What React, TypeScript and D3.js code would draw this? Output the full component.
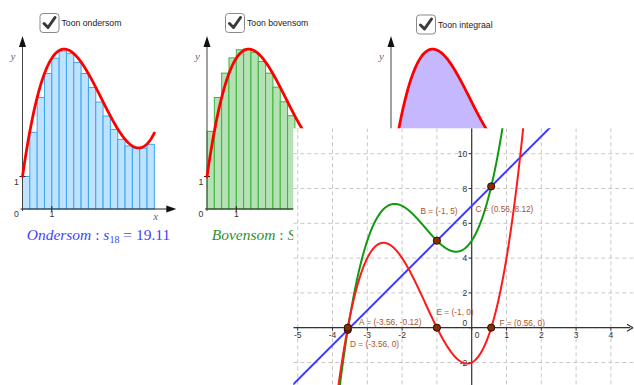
import * as d3 from 'd3';

// small panels: the cubic drawn in all three, and the 18 rectangle heights
const panelCurveCoef = [0.37, -2.99, 6.26, 1];
const sumInterval = [0, 4.5];
const lowerSums = [1, 2.36, 3.43, 4.17, 4.64, 4.86, 4.79, 4.51, 4.17, 3.74, 3.29, 2.86, 2.45, 2.14, 1.94, 1.87, 1.87, 1.99];
const upperSums = [2.39, 3.43, 4.18, 4.65, 4.9, 4.92, 4.82, 4.54, 4.18, 3.75, 3.3, 2.87, 2.46, 2.14, 1.95, 1.93, 1.99, 2.33];
const checkboxLabels = ['Toon ondersom', 'Toon bovensom', 'Toon integraal'];

// big graph
const redCoef = [1, 4, 1, -2];
const greenCoef = [1, 4, 3, 5];
const blueCoef = [2, 7];
const pointNames = ['A', 'B', 'C', 'D', 'E', 'F'];
const pointX = [-3.56, -1, 0.56, -3.56, -1, 0.56];
const pointY = [-0.12, 5, 8.12, 0, 0, 0];
const xTickLabels = [-5, -4, -3, -2, 0, 1, 2, 3, 4];
const yTickLabels = [-2, 0, 2, 4, 6, 8, 10];

const poly = (c: number[]) => (x: number) => c.reduce((acc, k) => acc * x + k, 0);

const W = 634;
const H = 385;
const SANS = '"Liberation Sans", Arial, sans-serif';
const SERIF = '"Liberation Serif", "Times New Roman", serif';

const Checkbox = ({ x, y, label }: { x: number; y: number; label: string }) => (
  <g>
    <rect x={x + 0.5} y={y + 0.5} width={19} height={19} rx={3} fill="#fff" stroke="#8a8a8a" strokeWidth={1} />
    <path d={`M${x + 4.5},${y + 10.5} L${x + 8.5},${y + 14.5} L${x + 15.5},${y + 4.5}`} fill="none" stroke="#3a3a3a" strokeWidth={3} strokeLinecap="round" strokeLinejoin="round" />
    <text x={x + 22} y={y + 13} fontFamily={SANS} fontSize={8.7} fill="#222">{label}</text>
  </g>
);

const Panel = ({ ox, kind }: { ox: number; kind: number }) => {
  const oy = 209;
  const x = d3.scaleLinear().domain([0, 1]).range([ox, ox + 29.3]);
  const y = d3.scaleLinear().domain([0, 1]).range([oy, oy - 32.5]);
  const h = poly(panelCurveCoef);
  const xs = d3.range(sumInterval[0], sumInterval[1] + 0.001, 0.02);
  const line = d3.line<number>().x(d => x(d)).y(d => y(h(d)));
  const area = d3.area<number>().x(d => x(d)).y0(y(0)).y1(d => y(h(d)));
  const heights = kind === 0 ? lowerSums : upperSums;
  const bw = (sumInterval[1] - sumInterval[0]) / heights.length;
  const axisEnd = x(5.25);
  // the third panel's lower part sits under the big graph, so its labels are left out
  const showLower = kind < 2;
  return (
    <g>
      {kind < 2 && heights.map((v, i) => (
        <rect key={i} x={x(sumInterval[0] + i * bw)} y={y(v)} width={x(bw) - x(0)} height={y(0) - y(v)}
          fill={kind === 0 ? '#bfe2ff' : '#b5e2b5'} stroke={kind === 0 ? '#3aa6f2' : '#3cb33c'} strokeWidth={1} />
      ))}
      {kind === 2 && <path d={area(xs) || ''} fill="#c6b8ff" />}
      {/* axes */}
      <line x1={ox - 2} y1={oy} x2={axisEnd - 6} y2={oy} stroke="#222" strokeWidth={1} />
      <path d={`M${axisEnd},${oy} L${axisEnd - 10},${oy - 3.5} L${axisEnd - 10},${oy + 3.5} Z`} fill="#111" />
      <line x1={ox} y1={oy + 2} x2={ox} y2={42} stroke="#444" strokeWidth={1} />
      <path d={`M${ox},36 L${ox - 3.5},47 L${ox + 3.5},47 Z`} fill="#111" />
      <line x1={x(1)} y1={oy - 3} x2={x(1)} y2={oy + 3} stroke="#222" />
      <line x1={ox - 3} y1={y(1)} x2={ox + 3} y2={y(1)} stroke="#222" />
      {showLower && (
        <g fontFamily={SANS} fontSize={8.7} fill="#333" textAnchor="middle">
          <text x={ox - 6} y={oy + 8}>0</text>
          <text x={ox - 6} y={y(1) + 8}>1</text>
          <text x={x(1)} y={oy + 8}>1</text>
        </g>
      )}
      <text x={ox - 12} y={60} fontFamily={SERIF} fontStyle="italic" fontSize={11} fill="#666">y</text>
      {kind === 0 && (
        <text x={axisEnd - 23} y={220} fontFamily={SERIF} fontStyle="italic" fontSize={11} fill="#666">x</text>
      )}
      <path d={line(xs) || ''} fill="none" stroke="#ff0000" strokeWidth={2.8} strokeLinecap="round" />
    </g>
  );
};

const SumText = ({ x, color, name, sym, value }: { x: number; color: string; name: string; sym: string; value: string }) => (
  <text x={x} y={240} fontFamily={SERIF} fontSize={15.5} fill={color}>
    <tspan fontStyle="italic">{name}</tspan>
    <tspan> : </tspan>
    <tspan fontStyle="italic">{sym}</tspan>
    <tspan fontSize={10} dy={3}>18</tspan>
    <tspan dy={-3}> = {value}</tspan>
  </text>
);

const Graph = () => {
  const left = 293.3;
  const top = 128.3;
  const x = d3.scaleLinear().domain([0, 1]).range([471.7, 471.7 + 34.8]);
  const y = d3.scaleLinear().domain([0, 1]).range([327.7, 327.7 - 17.4]);
  const xs = d3.range(-5.3, 4.8, 0.01);
  const mk = (c: number[]) => {
    const f = poly(c);
    return d3.line<number>().x(d => x(d)).y(d => Math.max(-50, Math.min(450, y(f(d)))))(xs) || '';
  };
  const gridX = d3.range(-5, 5);
  const gridY = d3.range(-2, 12, 2);
  const labelPos: Record<string, [number, number]> = {
    A: [359, 324.5],
    B: [420.5, 214],
    C: [475.5, 212],
    D: [350, 346.5],
    E: [436.5, 315],
    F: [499.5, 325.5],
  };
  return (
    <g>
      <defs>
        <clipPath id="gclip"><rect x={left} y={top} width={W - left} height={H - top} /></clipPath>
      </defs>
      <rect x={left} y={top} width={W - left} height={H - top} fill="#fff" />
      <g clipPath="url(#gclip)">
        {gridX.map(v => (
          <line key={'gx' + v} x1={x(v)} x2={x(v)} y1={top} y2={H} stroke="#c8c8c8" strokeDasharray="4,3" />
        ))}
        {gridY.map(v => (
          <line key={'gy' + v} x1={left} x2={W} y1={y(v)} y2={y(v)} stroke="#c8c8c8" strokeDasharray="4,3" />
        ))}
        <line x1={left} x2={W - 4} y1={y(0)} y2={y(0)} stroke="#333" strokeWidth={1.2} />
        <path d={`M${W - 1},${y(0)} L${W - 7},${y(0) - 3.5} M${W - 1},${y(0)} L${W - 7},${y(0) + 3.5}`} stroke="#333" strokeWidth={1.2} fill="none" />
        <line x1={x(0)} x2={x(0)} y1={top} y2={H} stroke="#333" strokeWidth={1.2} />
        {gridX.map(v => (
          <line key={'tx' + v} x1={x(v)} x2={x(v)} y1={y(0)} y2={y(0) + 3} stroke="#333" />
        ))}
        {yTickLabels.map(v => (
          <line key={'ty' + v} x1={x(0) - 3} x2={x(0)} y1={y(v)} y2={y(v)} stroke="#333" />
        ))}
        {xTickLabels.map(v => (
          <text key={'lx' + v} x={v === 0 ? x(0) + 5.5 : x(v)} y={y(0) + 10} fontFamily={SANS} fontSize={8.5} fill="#333" textAnchor="middle">{v}</text>
        ))}
        {yTickLabels.map(v => (
          <text key={'ly' + v} x={x(0) - 4.5} y={v === 0 ? y(0) - 2 : y(v) + 3} fontFamily={SANS} fontSize={8.5} fill="#333" textAnchor="end">{v}</text>
        ))}
        <path d={mk(blueCoef)} fill="none" stroke="#3d3dff" strokeWidth={2} />
        <path d={mk(greenCoef)} fill="none" stroke="#119911" strokeWidth={2} />
        <path d={mk(redCoef)} fill="none" stroke="#ff1a1a" strokeWidth={2} />
        {pointNames.map((n, i) => (
          <g key={n}>
            <circle cx={x(pointX[i])} cy={y(pointY[i])} r={3.6} fill="#8a2e00" stroke="#2a0c00" strokeWidth={1} />
            <text x={labelPos[n][0]} y={labelPos[n][1]} fontFamily={SANS} fontSize={8.3} fill="#a8552b">
              {`${n} = (${pointX[i]}, ${pointY[i]})`}
            </text>
          </g>
        ))}
      </g>
    </g>
  );
};

export default function App() {
  const panelX = [22.5, 207, 391];
  const boxX = [39.5, 225, 416];
  return (
    <svg width={W} height={H} viewBox={`0 0 ${W} ${H}`} style={{ position: 'absolute', left: 0, top: 0, background: '#fff' }}>
      {panelX.map((ox, i) => (
        <g key={i}>
          <Checkbox x={boxX[i]} y={i === 2 ? 14.5 : 13} label={checkboxLabels[i]} />
          <Panel ox={ox} kind={i} />
        </g>
      ))}
      <SumText x={26.7} color="#4242ff" name="Ondersom" sym="s" value="19.11" />
      <SumText x={211.7} color="#2f8f2f" name="Bovensom" sym="S" value="20.69" />
      <Graph />
    </svg>
  );
}
